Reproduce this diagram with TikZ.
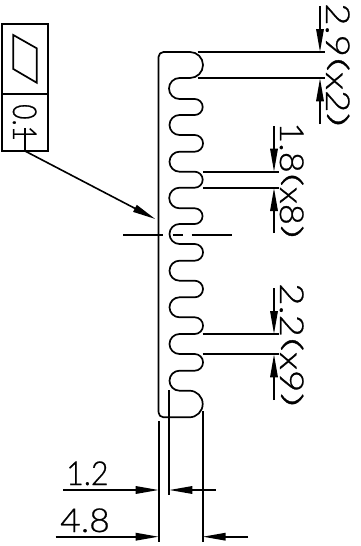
\documentclass[tikz,border=0pt]{standalone}
\usepackage{fontspec}
\setmainfont{Lato}[UprightFont=* Light,UprightFeatures={FakeBold=0.7}]
\usetikzlibrary{arrows.meta}
\tikzset{
  cad/.style={draw=black,line width=1.7pt},
  dimline/.style={draw=black,line width=1.6pt,-{Triangle[length=23pt,width=7.5pt]}},
  dimtext/.style={inner sep=0pt,text=black,font=\fontsize{33}{33}\selectfont},
}
\newcommand{\dimlabel}[2]{\scalebox{#1}[1]{#2}}
\newcommand{\lpar}{\raisebox{.13em}{\scalebox{1.5}[.76]{(}}}
\newcommand{\rpar}{\raisebox{.13em}{\scalebox{1.5}[.76]{)}}}
\begin{document}
\begin{tikzpicture}[x=1pt,y=-1pt]
\useasboundingbox (0,0) rectangle (360,546);
\fill[white] (0,0) rectangle (360,546);
% serpentine outline
\draw[cad,line join=round]
 (158.5,412) -- (158.5,57) arc[start angle=180,end angle=90,radius=5pt]
 -- (190,52) arc[start angle=90,end angle=-90,radius=13pt]
 -- (179.5,78) arc[start angle=90,end angle=270,radius=10.5pt]
 -- (194.7,99) arc[start angle=90,end angle=-90,radius=8pt]
 -- (179.5,115) arc[start angle=90,end angle=270,radius=10pt]
 -- (194.7,135) arc[start angle=90,end angle=-90,radius=8.35pt]
 -- (179.5,151.7) arc[start angle=90,end angle=270,radius=10pt]
 -- (194.7,171.7) arc[start angle=90,end angle=-90,radius=8pt]
 -- (179.5,187.7) arc[start angle=90,end angle=270,radius=10.3pt]
 -- (194.7,208.3) arc[start angle=90,end angle=-90,radius=7.85pt]
 -- (179.5,224) arc[start angle=90,end angle=270,radius=10pt]
 -- (194.7,244) arc[start angle=90,end angle=-90,radius=8.35pt]
 -- (179.5,260.7) arc[start angle=90,end angle=270,radius=10pt]
 -- (194.7,280.7) arc[start angle=90,end angle=-90,radius=8.3pt]
 -- (179.5,297.3) arc[start angle=90,end angle=270,radius=10pt]
 -- (194.7,317.3) arc[start angle=90,end angle=-90,radius=8.35pt]
 -- (179.5,334) arc[start angle=90,end angle=270,radius=10pt]
 -- (194.7,354) arc[start angle=90,end angle=-90,radius=8.35pt]
 -- (179.5,370.7) arc[start angle=90,end angle=270,radius=10pt]
 -- (189.4,390.7) arc[start angle=90,end angle=-90,radius=13.3pt]
 -- (163.5,417.3) arc[start angle=270,end angle=180,radius=5pt];
% centre line
\draw[cad] (123,234.7) -- (163,234.7);
\draw[cad] (172.7,234.7) -- (182.7,234.7);
\draw[cad] (191.7,234.7) -- (231.7,234.7);
% extension lines
\draw[cad] (197.7,52) -- (325,52);
\draw[cad] (197.7,78.3) -- (325,78.3);
\draw[cad] (203,171.7) -- (279,171.7);
\draw[cad] (203,188) -- (279,188);
\draw[cad] (202.7,334) -- (279,334);
\draw[cad] (202.7,354.3) -- (279,354.3);
\draw[cad] (158.7,421) -- (158.7,541.7);
\draw[cad] (169.3,390) -- (169.3,495);
\draw[cad] (202.7,411) -- (202.7,541.7);
% named dimension ends
\coordinate (a1) at (320,6);   \coordinate (a2) at (320,52);
\coordinate (b1) at (320,124); \coordinate (b2) at (320,78.3);
\coordinate (c1) at (274,126); \coordinate (c2) at (274,171.7);
\coordinate (d1) at (274,233); \coordinate (d2) at (274,188);
\coordinate (e1) at (274,288); \coordinate (e2) at (274,334);
\coordinate (f1) at (274,400); \coordinate (f2) at (274,354.3);
\coordinate (g1) at (63,490);  \coordinate (g2) at (158.7,490);
\coordinate (h1) at (215.7,490); \coordinate (h2) at (169.3,490);
\coordinate (i1) at (55.7,536.7); \coordinate (i2) at (158.7,536.7);
\coordinate (j1) at (248,536.7); \coordinate (j2) at (202.7,536.7);
\foreach \s/\t in {a1/a2,b1/b2,c1/c2,d1/d2,e1/e2,f1/f2,g1/g2,h1/h2,i1/i2,j1/j2}
  \draw[dimline] (\s) -- (\t);
% frame
\draw[cad] (2,24) rectangle (47.7,151);
\draw[cad] (2,94) -- (47.7,94);
\draw[cad] (13.3,35) -- (36.7,48.3) -- (36.7,82.7) -- (13.3,69) -- cycle;
\coordinate (lead0) at (25,128);
\coordinate (lead1) at (25,151);
\coordinate (lead2) at (155.3,219);
\draw[cad] (lead0) -- (lead1);
\draw[dimline] (lead1) -- (lead2);
% labels
\node[dimtext,rotate=-90,anchor=base west] (t01) at (13,104) {\dimlabel{.8}{0.1}};
\node[dimtext,rotate=-90,anchor=base west] (t29) at (326,3) {\dimlabel{1.17}{2.9\lpar x2\rpar}};
\node[dimtext,rotate=-90,anchor=base west] (t18) at (280,122) {\dimlabel{1.1}{1.8\lpar x8\rpar}};
\node[dimtext,rotate=-90,anchor=base west] (t22) at (280,283) {\dimlabel{1.17}{2.2\lpar x9\rpar}};
\node[dimtext,anchor=base west] (t12) at (66,485) {\dimlabel{.92}{1.2}};
\node[dimtext,anchor=base west] (t48) at (60,532) {\dimlabel{1.08}{4.8}};
\end{tikzpicture}
\end{document}
